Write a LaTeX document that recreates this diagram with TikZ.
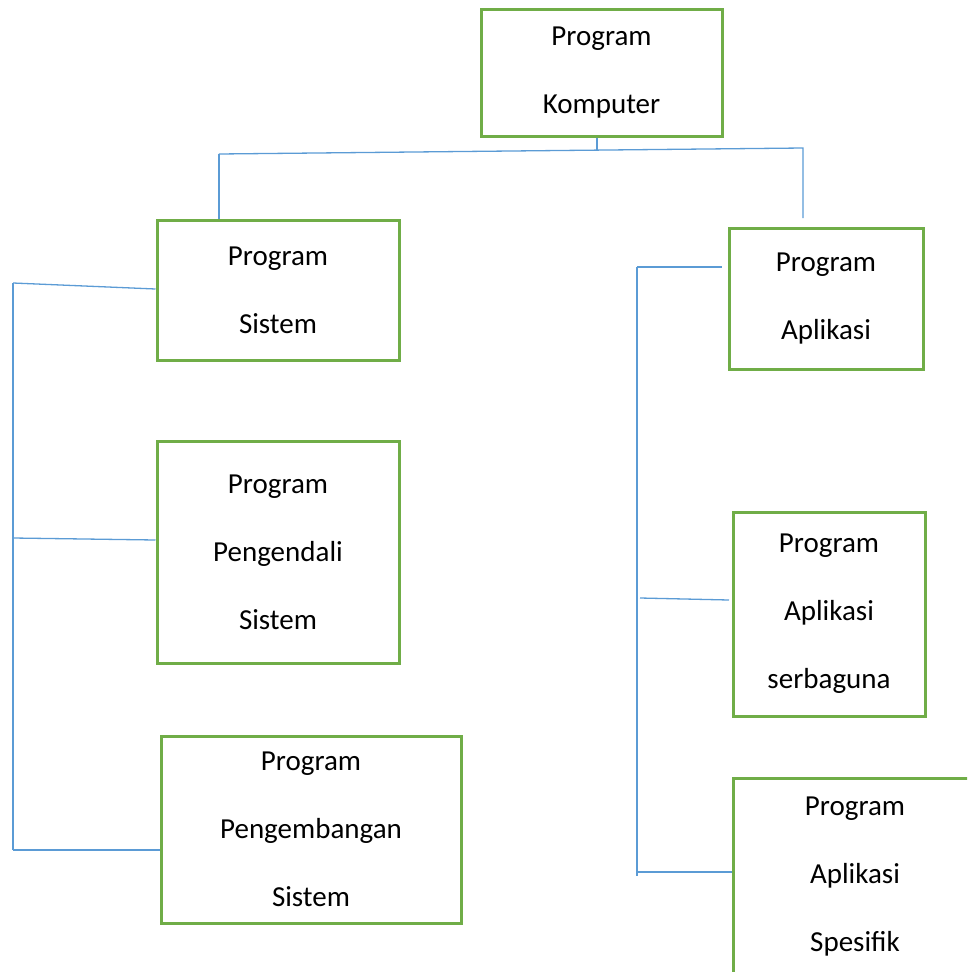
\documentclass[tikz,border=0pt]{standalone}
\usepackage{fontspec}
\setmainfont{Carlito}
\usepackage{xcolor}
\usepackage{tikz}
\usetikzlibrary{positioning}

\definecolor{hijau}{HTML}{70AD47}
\definecolor{biru}{HTML}{5B9BD5}

\tikzset{
    kotak/.style={rectangle, draw=hijau, line width=3pt, inner sep=0pt, align=center,
        font=\fontsize{29}{68}\selectfont},
    garis/.style={draw=biru, line width=1.3pt}
}

\begin{document}
\begin{tikzpicture}[x=1pt, y=-1pt]
    \useasboundingbox (0,0) rectangle (967,972);
    \clip (0,0) rectangle (967,972);

    % kotak-kotak
    \node (komputer) [kotak, minimum width=241pt, minimum height=127pt] at (601.5,72.5) {Program\\Komputer};
    \node (sistem) [kotak, minimum width=242pt, minimum height=140pt] at (278,290) {Program\\Sistem};
    \node (kendali) [kotak, minimum width=242pt, minimum height=222pt] at (278,552) {Program\\Pengendali\\Sistem};
    \node (kembang) [kotak, minimum width=300pt, minimum height=187pt] at (311,829.5) {Program\\Pengembangan\\Sistem};
    \node (aplikasi) [kotak, minimum width=194pt, minimum height=141pt] at (826,298.5) {Program\\Aplikasi};
    \node (serbaguna) [kotak, minimum width=192pt, minimum height=204pt] at (829,614) {Program\\Aplikasi\\serbaguna};
    \node (spesifik) [kotak, minimum width=244pt, minimum height=198pt] at (855,877) {Program\\Aplikasi\\Spesifik};

    % titik bantu
    \coordinate (kiri) at (219,154);
    \coordinate (kanan) at (803,148);
    \coordinate (kananujung) at (803,218);
    \coordinate (tengah) at (597,151);
    \coordinate (a1) at (13,283);
    \coordinate (a2) at (13,538);
    \coordinate (a3) at (13,850);
    \coordinate (b1) at (637,267);
    \coordinate (b2) at (640,598);
    \coordinate (b3) at (637,876);
    \coordinate (b1ujung) at (722,267);
    \coordinate (b2ujung) at (729,600);

    % garis hubung
    \draw [garis] ([xshift=-4.5pt]komputer.south) -- (tengah);
    \draw [garis] (kiri) -- (kanan) -- (kananujung);
    \draw [garis] (kiri) -- (kiri |- sistem.north);

    \draw [garis] (a1) -- (a3);
    \draw [garis] (a1) -- ([yshift=1pt]sistem.west);
    \draw [garis] (a2) -- ([yshift=12pt]kendali.west);
    \draw [garis] (a3) -- (a3 -| kembang.west);

    \draw [garis] (b1) -- (b3);
    \draw [garis] (b1) -- (b1ujung);
    \draw [garis] (b2) -- (b2ujung);
    \draw [garis] ([yshift=4pt]b3) -- ([yshift=4pt]b3 -| spesifik.west);
\end{tikzpicture}
\end{document}
